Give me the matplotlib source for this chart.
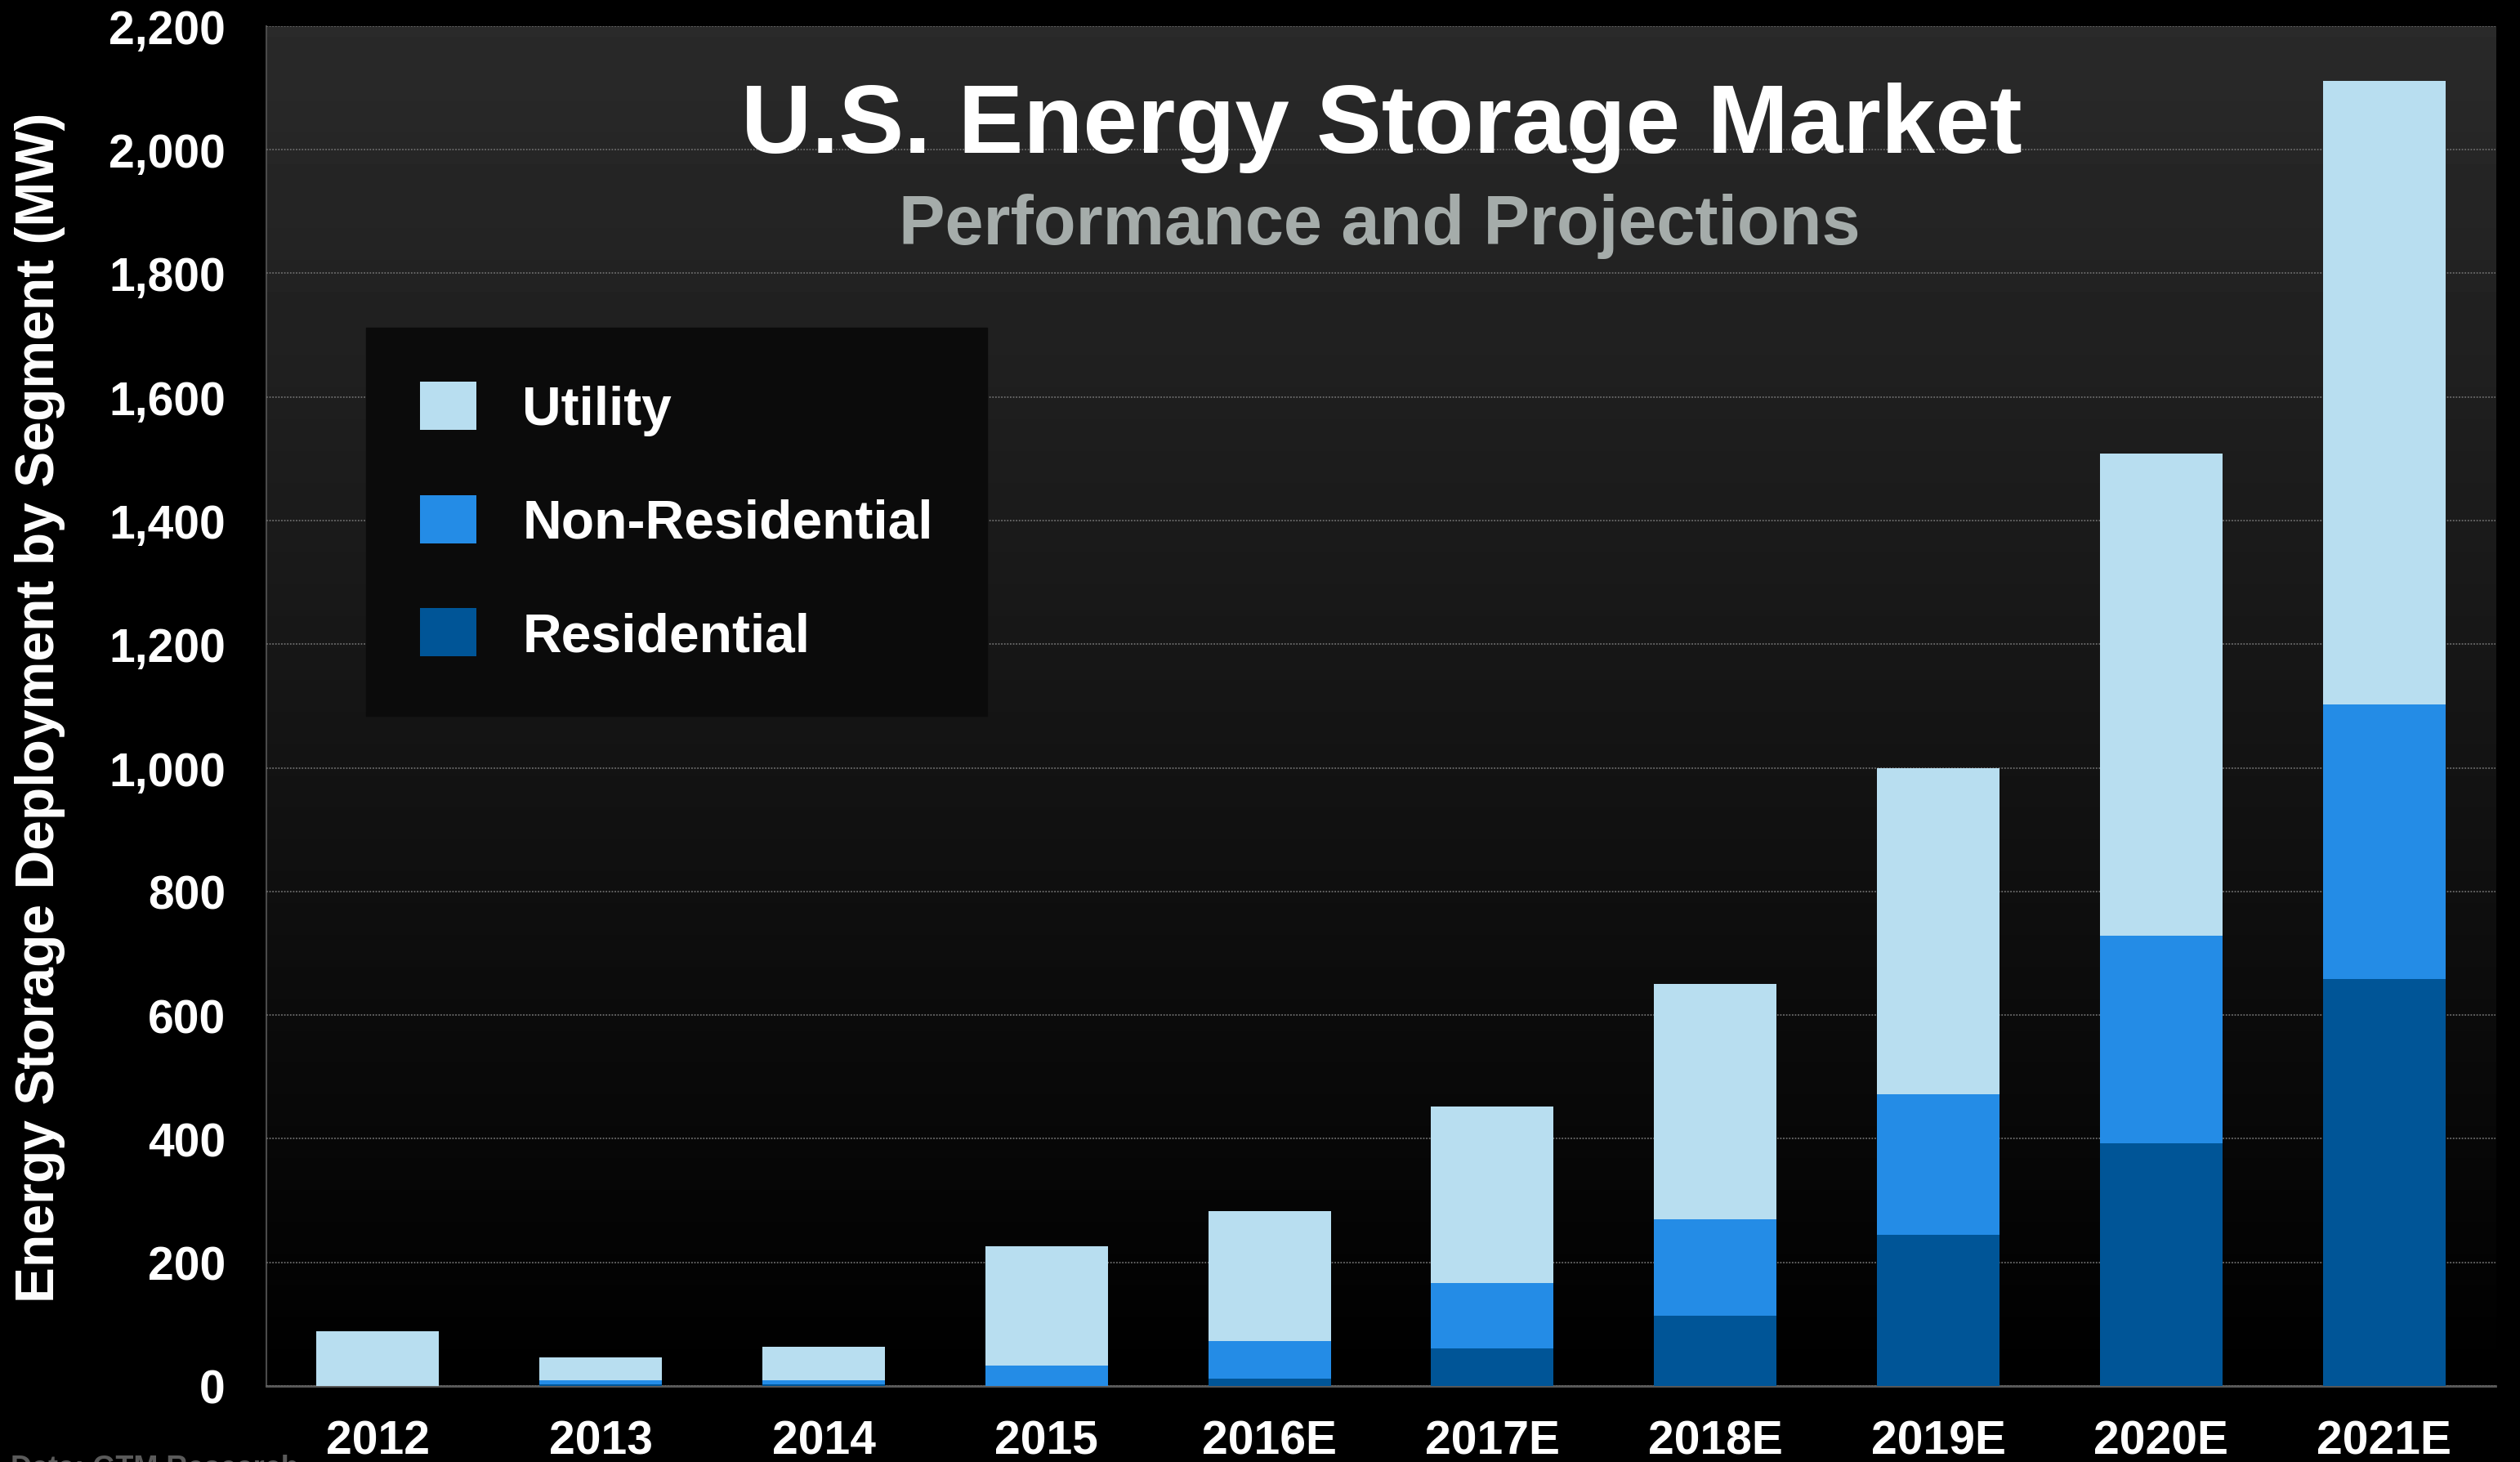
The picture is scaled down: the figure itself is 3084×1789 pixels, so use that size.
import matplotlib
matplotlib.use("Agg")
import matplotlib.pyplot as plt
import numpy as np

plt.rcParams["font.family"] = ["Liberation Sans", "DejaVu Sans"]
plt.rcParams["font.weight"] = "bold"

years = ["2012", "2013", "2014", "2015", "2016E", "2017E", "2018E", "2019E", "2020E", "2021E"]
residential = [0, 2, 2, 0, 12, 61, 114, 245, 393, 658]
non_residential = [0, 7, 7, 33, 60, 106, 156, 227, 335, 445]
utility = [89, 37, 55, 193, 211, 285, 381, 528, 780, 1008]
y_ticks = list(range(0, 2201, 200))

c_util = "#b8def0"
c_nonres = "#248ce6"
c_res = "#005597"

fig = plt.figure(figsize=(30.84, 17.9), dpi=100, facecolor="black")
ax = fig.add_axes([0.1057, 0.052, 0.8846, 0.9296])
ax.set_facecolor("black")

# dark grey to black gradient behind the bars
grad = np.linspace(0.0, 0.165, 256).reshape(-1, 1)
ax.imshow(grad, cmap="gray", vmin=0, vmax=1, origin="lower", aspect="auto",
          extent=(0, 1, 0, 1), transform=ax.transAxes, zorder=0)

x = np.arange(len(years))
res = np.array(residential)
nonres = np.array(non_residential)
util = np.array(utility)
w = 0.55
ax.bar(x, res, w, color=c_res, label="Residential", zorder=3)
ax.bar(x, nonres, w, bottom=res, color=c_nonres, label="Non-Residential", zorder=3)
ax.bar(x, util, w, bottom=res + nonres, color=c_util, label="Utility", zorder=3)

ax.set_xlim(-0.5, 9.5)
ax.set_ylim(0, 2200)
ax.set_yticks(y_ticks)
ax.set_yticklabels([f"{v:,}" for v in y_ticks])
ax.set_xticks(x)
ax.set_xticklabels(years)
ax.tick_params(axis="both", length=0, colors="white", labelsize=41)
ax.tick_params(axis="y", pad=36)
ax.tick_params(axis="x", pad=29)
for lab in ax.get_xticklabels() + ax.get_yticklabels():
    lab.set_fontweight("bold")

ax.grid(axis="y", color="#6a6a6a", linestyle=(0, (1, 1)), linewidth=1.3, zorder=1)
ax.set_axisbelow(False)
for gl in ax.get_ygridlines():
    gl.set_zorder(1)

ax.spines["top"].set_visible(False)
ax.spines["right"].set_visible(False)
ax.spines["left"].set_color("#4a4a4a")
ax.spines["left"].set_linewidth(1.5)
ax.spines["bottom"].set_color("#5a5a5a")
ax.spines["bottom"].set_linewidth(2)

handles, labels = ax.get_legend_handles_labels()
leg = ax.legend(handles[::-1], labels[::-1], loc="upper left",
                bbox_to_anchor=(448 / 3084, 1 - 402 / 1790), bbox_transform=fig.transFigure,
                prop={"size": 47.5, "weight": "bold"}, frameon=True, fancybox=False,
                facecolor="#0b0b0b", edgecolor="#0b0b0b", framealpha=1,
                handlelength=1.05, handleheight=1.0, handletextpad=0.85,
                labelspacing=1.1, borderpad=1.0, borderaxespad=0)
for t in leg.get_texts():
    t.set_color("white")
leg.set_zorder(5)

fig.text(1691 / 3084, 1 - 156 / 1790, "U.S. Energy Storage Market", color="white",
         fontsize=86, fontweight="bold", ha="center", va="center")
fig.text(1688 / 3084, 1 - 277 / 1790, "Performance and Projections", color="#a5acaa",
         fontsize=61, fontweight="bold", ha="center", va="center")
fig.text(49 / 3084, 1 - 866 / 1790, "Energy Storage Deployment by Segment (MW)", color="white",
         fontsize=47.5, fontweight="bold", rotation=90, ha="center", va="center")
fig.text(13 / 3084, 1 - 1780 / 1790, "Data: GTM Research", color="#5a5a5a",
         fontsize=26, ha="left", va="top")

fig.savefig("out.png", dpi=100, facecolor="black")
